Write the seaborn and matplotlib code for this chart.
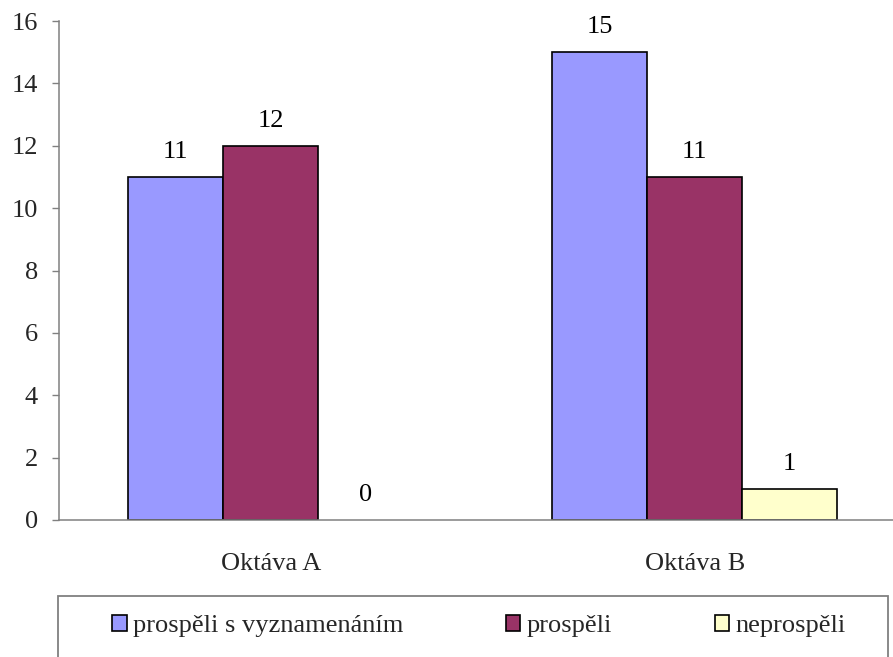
import matplotlib
matplotlib.use("Agg")
import matplotlib.pyplot as plt
import seaborn as sns
import pandas as pd
from matplotlib.patches import Rectangle, Patch

categories = ["Oktáva A", "Oktáva B"]
series_names = ["prospěli s vyznamenáním", "prospěli", "neprospěli"]
vyznamenani = [11, 15]
prospeli = [12, 11]
neprospeli = [0, 1]
colors = ["#9999FF", "#993366", "#FFFFCC"]
y_ticks = [0, 2, 4, 6, 8, 10, 12, 14, 16]

rows = []
for name, vals in zip(series_names, [vyznamenani, prospeli, neprospeli]):
    for c, v in zip(categories, vals):
        rows.append({"kategorie": c, "série": name, "počet": v})
df = pd.DataFrame(rows)

sns.set_theme(style="white")
plt.rcParams["font.family"] = ["Liberation Serif", "DejaVu Serif"]

W, H = 893, 657
fig = plt.figure(figsize=(W / 100, H / 100), dpi=100)
ax = fig.add_axes([58.7 / W, (H - 520) / H, 848 / W, 499 / H])

sns.barplot(data=df, x="kategorie", y="počet", hue="série", hue_order=series_names,
            order=categories, palette=colors, width=0.672, gap=0, dodge=True,
            edgecolor="black", linewidth=1.2, saturation=1, legend=False, ax=ax)

for p in ax.patches:
    if p.get_height() == 0:
        p.set_linewidth(0)

for cont in ax.containers:
    ax.bar_label(cont, padding=10, fontsize=19, color="black")

ax.set_ylim(0, 16)
ax.set_xlim(-0.5, 1.5)
ax.set_yticks(y_ticks)
ax.set_xlabel("")
ax.set_ylabel("")
ax.tick_params(axis="y", direction="out", length=5, width=1, color="#808080",
               labelsize=19, pad=10, left=True)
ax.tick_params(axis="x", length=0, labelsize=19, pad=24)
for s in ["top", "right"]:
    ax.spines[s].set_visible(False)
for s in ["left", "bottom"]:
    ax.spines[s].set_color("#808080")
    ax.spines[s].set_linewidth(1.1)
ax.grid(False)

# legend frame (extends below the visible image)
fig.patches.append(Rectangle((58 / W, -30 / H), 830 / W, (H - 596 + 30) / H,
                             transform=fig.transFigure, fill=False,
                             edgecolor="#808080", linewidth=1.3))
handles = [Patch(facecolor=c, edgecolor="black", linewidth=1.2) for c in colors]
fig.legend(handles, series_names, ncol=3, loc="center",
           bbox_to_anchor=(112 / W, (H - 626) / H, 734 / W, 0),
           mode="expand", frameon=False, fontsize=19,
           handlelength=0.55, handleheight=0.55, handletextpad=0.25,
           borderpad=0, borderaxespad=0)

fig.savefig("out.png", dpi=100)
